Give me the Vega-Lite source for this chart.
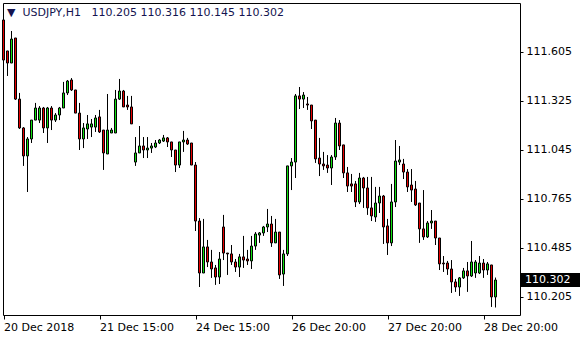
{
  "$schema": "https://vega.github.io/schema/vega-lite/v6.json",
  "width": 517,
  "height": 312,
  "autosize": {"type": "none"},
  "padding": {"left": 3, "top": 3, "right": 60, "bottom": 25},
  "background": "white",
  "config": {"view": {"stroke": "black", "strokeWidth": 1}, "font": "DejaVu Sans"},
  "data": {"values": [
    {"i":0,"o":111.788,"h":111.799,"l":111.548,"c":111.559},
    {"i":1,"o":111.611,"h":111.611,"l":111.468,"c":111.542},
    {"i":2,"o":111.542,"h":111.725,"l":111.542,"c":111.679},
    {"i":3,"o":111.685,"h":111.685,"l":111.331,"c":111.336},
    {"i":4,"o":111.336,"h":111.371,"l":111.165,"c":111.171},
    {"i":5,"o":111.171,"h":111.176,"l":110.954,"c":111.011},
    {"i":6,"o":111.011,"h":111.119,"l":110.805,"c":111.108},
    {"i":7,"o":111.108,"h":111.216,"l":111.085,"c":111.216},
    {"i":8,"o":111.216,"h":111.314,"l":111.216,"c":111.285},
    {"i":9,"o":111.216,"h":111.296,"l":111.199,"c":111.285},
    {"i":10,"o":111.285,"h":111.291,"l":111.142,"c":111.171},
    {"i":11,"o":111.171,"h":111.291,"l":111.085,"c":111.285},
    {"i":12,"o":111.285,"h":111.296,"l":111.159,"c":111.216},
    {"i":13,"o":111.216,"h":111.256,"l":111.205,"c":111.245},
    {"i":14,"o":111.245,"h":111.291,"l":111.216,"c":111.285},
    {"i":15,"o":111.285,"h":111.434,"l":111.285,"c":111.371},
    {"i":16,"o":111.371,"h":111.445,"l":111.359,"c":111.439},
    {"i":17,"o":111.445,"h":111.456,"l":111.382,"c":111.388},
    {"i":18,"o":111.388,"h":111.388,"l":111.256,"c":111.256},
    {"i":19,"o":111.256,"h":111.314,"l":111.045,"c":111.108},
    {"i":20,"o":111.108,"h":111.199,"l":111.056,"c":111.171},
    {"i":21,"o":111.165,"h":111.245,"l":111.108,"c":111.194},
    {"i":22,"o":111.176,"h":111.222,"l":111.119,"c":111.194},
    {"i":23,"o":111.176,"h":111.245,"l":111.148,"c":111.228},
    {"i":24,"o":111.234,"h":111.274,"l":111.142,"c":111.148},
    {"i":25,"o":111.159,"h":111.159,"l":110.931,"c":111.028},
    {"i":26,"o":111.022,"h":111.365,"l":111.022,"c":111.159},
    {"i":27,"o":111.142,"h":111.171,"l":111.142,"c":111.159},
    {"i":28,"o":111.142,"h":111.388,"l":111.142,"c":111.336},
    {"i":29,"o":111.336,"h":111.451,"l":111.331,"c":111.382},
    {"i":30,"o":111.382,"h":111.388,"l":111.291,"c":111.291},
    {"i":31,"o":111.302,"h":111.354,"l":111.274,"c":111.291},
    {"i":32,"o":111.291,"h":111.354,"l":111.194,"c":111.194},
    {"i":33,"o":110.976,"h":111.119,"l":110.954,"c":111.028},
    {"i":34,"o":111.028,"h":111.182,"l":111.028,"c":111.068},
    {"i":35,"o":111.068,"h":111.119,"l":110.999,"c":111.045},
    {"i":36,"o":111.045,"h":111.119,"l":110.999,"c":111.056},
    {"i":37,"o":111.056,"h":111.085,"l":111.028,"c":111.068},
    {"i":38,"o":111.062,"h":111.102,"l":111.056,"c":111.085},
    {"i":39,"o":111.085,"h":111.108,"l":111.079,"c":111.102},
    {"i":40,"o":111.096,"h":111.131,"l":111.091,"c":111.114},
    {"i":41,"o":111.114,"h":111.119,"l":111.062,"c":111.091},
    {"i":42,"o":111.091,"h":111.091,"l":111.005,"c":111.045},
    {"i":43,"o":111.045,"h":111.045,"l":110.919,"c":110.959},
    {"i":44,"o":110.959,"h":111.091,"l":110.942,"c":111.091},
    {"i":45,"o":111.091,"h":111.154,"l":111.034,"c":111.102},
    {"i":46,"o":111.102,"h":111.114,"l":111.074,"c":111.079},
    {"i":47,"o":111.085,"h":111.085,"l":110.959,"c":110.959},
    {"i":48,"o":110.959,"h":110.976,"l":110.582,"c":110.639},
    {"i":49,"o":110.639,"h":110.656,"l":110.262,"c":110.342},
    {"i":50,"o":110.342,"h":110.651,"l":110.342,"c":110.491},
    {"i":51,"o":110.491,"h":110.531,"l":110.376,"c":110.405},
    {"i":52,"o":110.405,"h":110.474,"l":110.314,"c":110.365},
    {"i":53,"o":110.371,"h":110.388,"l":110.274,"c":110.319},
    {"i":54,"o":110.319,"h":110.462,"l":110.279,"c":110.422},
    {"i":55,"o":110.605,"h":110.674,"l":110.416,"c":110.456},
    {"i":56,"o":110.456,"h":110.456,"l":110.331,"c":110.451},
    {"i":57,"o":110.451,"h":110.502,"l":110.388,"c":110.405},
    {"i":58,"o":110.405,"h":110.422,"l":110.348,"c":110.376},
    {"i":59,"o":110.376,"h":110.451,"l":110.319,"c":110.434},
    {"i":60,"o":110.434,"h":110.554,"l":110.371,"c":110.416},
    {"i":61,"o":110.422,"h":110.474,"l":110.388,"c":110.411},
    {"i":62,"o":110.411,"h":110.554,"l":110.365,"c":110.496},
    {"i":63,"o":110.496,"h":110.576,"l":110.474,"c":110.565},
    {"i":64,"o":110.559,"h":110.576,"l":110.514,"c":110.571},
    {"i":65,"o":110.571,"h":110.611,"l":110.554,"c":110.605},
    {"i":66,"o":110.605,"h":110.708,"l":110.576,"c":110.622},
    {"i":67,"o":110.622,"h":110.668,"l":110.491,"c":110.514},
    {"i":68,"o":110.514,"h":110.651,"l":110.514,"c":110.576},
    {"i":69,"o":110.576,"h":110.576,"l":110.308,"c":110.331},
    {"i":70,"o":110.336,"h":110.474,"l":110.268,"c":110.451},
    {"i":71,"o":110.451,"h":110.954,"l":110.439,"c":110.954},
    {"i":72,"o":110.954,"h":110.999,"l":110.816,"c":110.976},
    {"i":73,"o":110.976,"h":111.365,"l":110.885,"c":111.354},
    {"i":74,"o":111.354,"h":111.405,"l":111.279,"c":111.336},
    {"i":75,"o":111.336,"h":111.376,"l":111.285,"c":111.359},
    {"i":76,"o":111.308,"h":111.348,"l":111.274,"c":111.302},
    {"i":77,"o":111.302,"h":111.302,"l":111.165,"c":111.211},
    {"i":78,"o":111.216,"h":111.216,"l":110.971,"c":110.994},
    {"i":79,"o":110.999,"h":111.114,"l":110.896,"c":110.965},
    {"i":80,"o":110.965,"h":111.034,"l":110.931,"c":110.954},
    {"i":81,"o":110.959,"h":111.016,"l":110.914,"c":110.942},
    {"i":82,"o":110.942,"h":111.016,"l":110.845,"c":111.005},
    {"i":83,"o":111.005,"h":111.228,"l":110.988,"c":111.199},
    {"i":84,"o":111.199,"h":111.216,"l":111.045,"c":111.068},
    {"i":85,"o":111.074,"h":111.074,"l":110.885,"c":110.914},
    {"i":86,"o":110.914,"h":110.948,"l":110.805,"c":110.839},
    {"i":87,"o":110.851,"h":110.908,"l":110.805,"c":110.839},
    {"i":88,"o":110.851,"h":110.868,"l":110.719,"c":110.748},
    {"i":89,"o":110.748,"h":110.914,"l":110.736,"c":110.885},
    {"i":90,"o":110.885,"h":110.891,"l":110.714,"c":110.828},
    {"i":91,"o":110.828,"h":110.891,"l":110.674,"c":110.714},
    {"i":92,"o":110.714,"h":110.891,"l":110.639,"c":110.668},
    {"i":93,"o":110.662,"h":110.834,"l":110.634,"c":110.742},
    {"i":94,"o":110.742,"h":110.834,"l":110.685,"c":110.782},
    {"i":95,"o":110.782,"h":110.788,"l":110.508,"c":110.605},
    {"i":96,"o":110.611,"h":110.651,"l":110.445,"c":110.514},
    {"i":97,"o":110.514,"h":110.851,"l":110.496,"c":110.748},
    {"i":98,"o":110.748,"h":111.102,"l":110.719,"c":110.982},
    {"i":99,"o":110.976,"h":111.068,"l":110.959,"c":110.988},
    {"i":100,"o":110.965,"h":110.994,"l":110.879,"c":110.919},
    {"i":101,"o":110.919,"h":110.936,"l":110.805,"c":110.834},
    {"i":102,"o":110.845,"h":110.936,"l":110.748,"c":110.816},
    {"i":103,"o":110.822,"h":110.868,"l":110.725,"c":110.731},
    {"i":104,"o":110.742,"h":110.742,"l":110.514,"c":110.594},
    {"i":105,"o":110.594,"h":110.816,"l":110.531,"c":110.548},
    {"i":106,"o":110.548,"h":110.639,"l":110.542,"c":110.628},
    {"i":107,"o":110.628,"h":110.702,"l":110.594,"c":110.639},
    {"i":108,"o":110.639,"h":110.639,"l":110.502,"c":110.542},
    {"i":109,"o":110.542,"h":110.542,"l":110.359,"c":110.394},
    {"i":110,"o":110.399,"h":110.439,"l":110.348,"c":110.394},
    {"i":111,"o":110.399,"h":110.411,"l":110.331,"c":110.365},
    {"i":112,"o":110.365,"h":110.416,"l":110.228,"c":110.291},
    {"i":113,"o":110.291,"h":110.308,"l":110.234,"c":110.262},
    {"i":114,"o":110.262,"h":110.319,"l":110.211,"c":110.314},
    {"i":115,"o":110.314,"h":110.371,"l":110.308,"c":110.354},
    {"i":116,"o":110.354,"h":110.405,"l":110.234,"c":110.325},
    {"i":117,"o":110.325,"h":110.525,"l":110.319,"c":110.405},
    {"i":118,"o":110.342,"h":110.416,"l":110.314,"c":110.405},
    {"i":119,"o":110.342,"h":110.439,"l":110.336,"c":110.399},
    {"i":120,"o":110.399,"h":110.422,"l":110.314,"c":110.359},
    {"i":121,"o":110.359,"h":110.405,"l":110.331,"c":110.394},
    {"i":122,"o":110.388,"h":110.388,"l":110.148,"c":110.205},
    {"i":123,"o":110.205,"h":110.316,"l":110.145,"c":110.302}
  ]},
  "encoding": {
    "x": {
      "field": "i",
      "type": "quantitative",
      "scale": {"domain": [-0.125, 129.125], "nice": false, "zero": false, "padding": 0},
      "axis": {
        "orient": "bottom",
        "title": null,
        "values": [0, 24, 48, 72, 96, 120],
        "labelExpr": "datum.value == 0 ? '20 Dec 2018' : datum.value == 24 ? '21 Dec 15:00' : datum.value == 48 ? '24 Dec 15:00' : datum.value == 72 ? '26 Dec 20:00' : datum.value == 96 ? '27 Dec 20:00' : '28 Dec 20:00'",
        "domain": false,
        "grid": false,
        "ticks": true,
        "tickSize": 4,
        "tickColor": "black",
        "labelAlign": "left",
        "labelBaseline": "top",
        "labelPadding": 2,
        "labelFont": "DejaVu Sans",
        "labelFontSize": 11,
        "labelColor": "black",
        "labelOverlap": false,
        "labelBound": false,
        "labelFlush": false
      }
    }
  },
  "layer": [
    {
      "mark": {"type": "rule", "color": "black", "strokeWidth": 1},
      "encoding": {
        "y": {
          "field": "l",
          "type": "quantitative",
          "scale": {"domain": [110.102, 111.885], "nice": false, "zero": false, "padding": 0},
          "axis": {
            "orient": "right",
            "title": null,
            "values": [110.205, 110.485, 110.765, 111.045, 111.325, 111.605],
            "format": ".3f",
            "domain": false,
            "grid": false,
            "tickSize": 3,
            "tickColor": "black",
            "labelPadding": 3,
            "labelFont": "DejaVu Sans",
            "labelFontSize": 11,
            "labelColor": "black",
            "labelOverlap": false,
            "labelBound": false,
            "labelFlush": false
          }
        },
        "y2": {"field": "h"}
      }
    },
    {
      "mark": {"type": "bar", "width": 2, "stroke": "black", "strokeWidth": 1},
      "encoding": {
        "y": {"field": "o", "type": "quantitative"},
        "y2": {"field": "c"},
        "fill": {"condition": {"test": "datum.c >= datum.o", "value": "#10e010"}, "value": "#e60000"}
      }
    },
    {
      "transform": [{"filter": "datum.i == 123"}],
      "mark": {"type": "point", "shape": "M-1,-0.237H1V0.237H-1Z", "filled": true, "color": "black", "opacity": 1, "size": 3481},
      "encoding": {
        "x": {"datum": 136.75},
        "y": {"field": "c", "type": "quantitative"}
      }
    },
    {
      "transform": [{"filter": "datum.i == 123"}],
      "mark": {"type": "text", "align": "left", "baseline": "middle", "color": "white", "fontSize": 11, "font": "DejaVu Sans"},
      "encoding": {
        "x": {"datum": 130.4},
        "y": {"field": "c", "type": "quantitative"},
        "text": {"field": "c", "format": ".3f"}
      }
    },
    {
      "transform": [{"filter": "datum.i == 123"}],
      "mark": {"type": "text", "align": "left", "baseline": "alphabetic", "color": "#141450", "fontSize": 11, "font": "DejaVu Sans"},
      "encoding": {
        "x": {"datum": 0.875},
        "y": {"datum": 111.811},
        "text": {"value": "▼\u00a0\u00a0USDJPY,H1\u00a0\u00a0\u00a0110.205\u00a0110.316\u00a0110.145\u00a0110.302"}
      }
    }
  ]
}
